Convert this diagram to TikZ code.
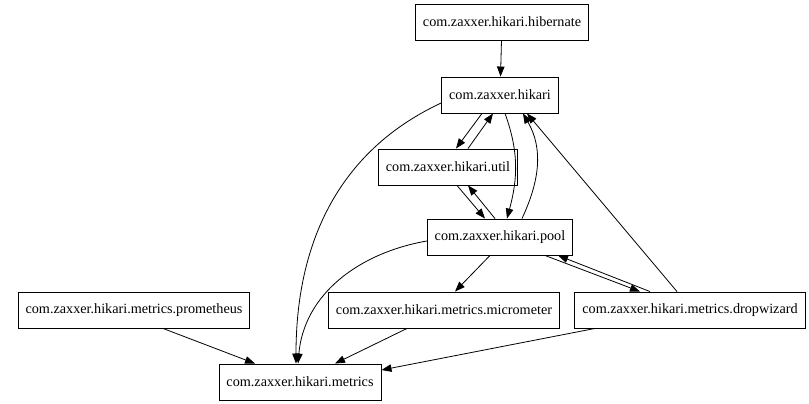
\documentclass[tikz,border=0pt]{standalone}
\usepackage{fontspec}
\setmainfont{Liberation Serif}
\usepackage{tikz}
\usetikzlibrary{arrows.meta,positioning,calc}

\begin{document}
\begin{tikzpicture}[x=1pt, y=-1pt,
    pkg/.style={rectangle, draw=black, line width=0.9pt, fill=white,
                minimum height=36pt, inner xsep=7.5pt,
                font=\fontsize{14.2}{16}\selectfont},
    dep/.style={-{Triangle[length=10pt,width=7.5pt]}, line width=0.8pt}]
    \useasboundingbox (0,0) rectangle (809,404);

    % Packages
    \node[pkg] (hibernate) at (502,22) {com.zaxxer.hikari.hibernate};
    \node[pkg] (hikari) at (500,95) {com.zaxxer.hikari};
    \node[pkg] (util) at (448,167) {com.zaxxer.hikari.util};
    \node[pkg] (pool) at (500,237) {com.zaxxer.hikari.pool};
    \node[pkg] (prometheus) at (134,310) {com.zaxxer.hikari.metrics.prometheus};
    \node[pkg] (micrometer) at (444,310) {com.zaxxer.hikari.metrics.micrometer};
    \node[pkg] (dropwizard) at (690,310) {com.zaxxer.hikari.metrics.dropwizard};
    \node[pkg] (metrics) at (300,382) {com.zaxxer.hikari.metrics};

    % Dependencies
    \draw[dep] (hibernate) -- (hikari);
    \draw[dep] ([xshift=-18pt]hikari.south) -- ([xshift=8pt]util.north);
    \draw[dep] ([xshift=20pt]util.north) -- ([xshift=-7pt]hikari.south);
    \draw[dep] ([xshift=5pt]hikari.south) to[out=-70,in=75] ([xshift=7pt]pool.north);
    \draw[dep] ([xshift=22pt]pool.north) to[out=65,in=-60] ([xshift=23pt]hikari.south);
    \draw[dep] ([xshift=9pt]util.south) -- ([xshift=-15pt]pool.north);
    \draw[dep] ([xshift=-5pt]pool.north) -- ([xshift=20pt]util.south);
    \draw[dep] ([yshift=-8pt]hikari.west) to[out=205,in=90] ([xshift=-4pt]metrics.north);
    \draw[dep] ([yshift=-4pt]pool.west) to[out=190,in=85] ([xshift=-2pt]metrics.north);
    \draw[dep] ([xshift=-10pt]pool.south) -- ([xshift=11pt]micrometer.north);
    \draw[dep] ([xshift=45pt]pool.south) -- ([xshift=-50pt]dropwizard.north);
    \draw[dep] ([xshift=-40pt]dropwizard.north) -- ([xshift=58pt]pool.south);
    \draw[dep] ([xshift=-13pt]dropwizard.north) -- ([xshift=27pt]hikari.south);
    \draw[dep] ([xshift=29pt]prometheus.south) -- ([xshift=-45pt]metrics.north);
    \draw[dep] ([xshift=-37pt]micrometer.south) -- ([xshift=35pt]metrics.north);
    \draw[dep] ([xshift=-95pt]dropwizard.south) -- ([yshift=12pt]metrics.east);
\end{tikzpicture}
\end{document}
